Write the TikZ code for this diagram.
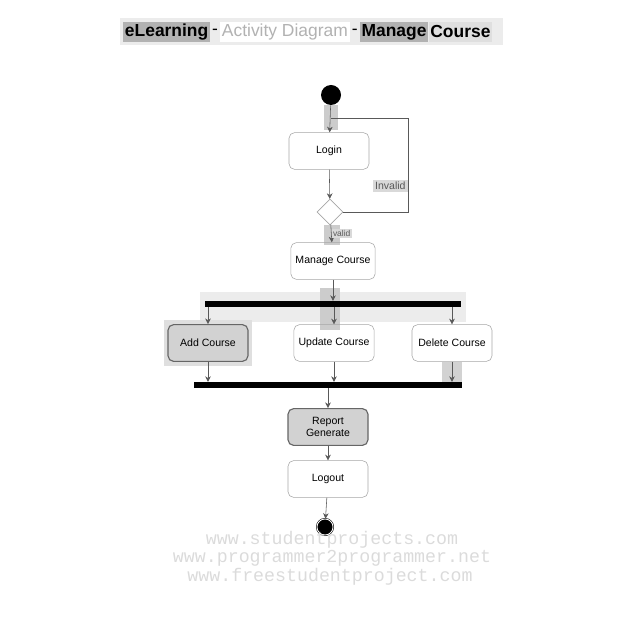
\documentclass[tikz,border=0pt]{standalone}
\usepackage{fontspec}
\setmainfont{Liberation Sans}
\setmonofont{Liberation Mono}
\usetikzlibrary{arrows.meta,calc,positioning,shapes.geometric}

\begin{document}
\begin{tikzpicture}[x=0.25mm,y=-0.25mm,
    act/.style={draw=gray!70, rounded corners=4pt, align=center, minimum width=20mm, minimum height=9.2mm, font=\fontsize{7.5}{8.5}\selectfont},
    hot/.style={act, fill=gray!35, draw=gray!80!black, line width=0.8pt},
    bar/.style={fill=black, inner sep=0, minimum height=1.4mm},
    flow/.style={-{Stealth[length=4pt,width=4pt]}, gray!70!black},
    ttl/.style={inner sep=1.2pt, minimum height=5mm, font=\fontsize{12.4}{14}\selectfont},
    wmark/.style={text=gray!28, font=\ttfamily\fontsize{13}{15}\selectfont}]
    \useasboundingbox (0,0) rectangle (640,640);
    % Title
    \fill[gray!15] (120,18) rectangle (503,45);
    \node[ttl, fill=gray!60, font=\fontsize{12.4}{14}\selectfont\bfseries, anchor=west] (t1) at (123,32) {eLearning};
    \node[ttl, right=0pt of t1] (t2) {-};
    \node[ttl, right=0pt of t2, fill=white, text=gray!60] (t3) {Activity Diagram};
    \node[ttl, right=0pt of t3] (t4) {-};
    \node[ttl, right=0pt of t4, fill=gray!60, font=\fontsize{12.4}{14}\selectfont\bfseries] (t5) {Manage};
    \node[ttl, right=0pt of t5, fill=gray!25, font=\fontsize{12.4}{14}\selectfont\bfseries] (t6) {Course};
    % Highlights
    \fill[gray!40] (324,105) rectangle (338,130);
    \fill[gray!40] (324,225) rectangle (340,245);
    \fill[gray!15] (200,292) rectangle (466,322);
    \fill[gray!40] (320,288) rectangle (340,330);
    \fill[gray!25] (164,320) rectangle (252,366);
    \fill[gray!35] (442,362) rectangle (462,385);
    % Nodes
    \node[circle, fill=black, minimum size=5mm, inner sep=0] (start) at (331,95) {};
    \node[act] (login) at (329,151) {Login};
    \node[diamond, draw=gray!70, fill=white, minimum size=6.5mm, inner sep=0] (check) at (330,212) {};
    \node[act] (manage) at (333,261) {Manage Course};
    \node[bar, minimum width=64mm] (fork) at (333,304) {};
    \node[hot] (add) at (208,343) {Add Course};
    \node[act] (update) at (334,343) {Update Course};
    \node[act] (delete) at (452,343) {Delete Course};
    \node[bar, minimum width=67mm] (join) at (328,385) {};
    \node[hot] (report) at (328,427) {Report\\Generate};
    \node[act] (logout) at (328,479) {Logout};
    \node[circle, draw=black, fill=black, minimum size=4mm, inner sep=0, double=white, double distance=0.6pt] (stop) at (325,527) {};
    \coordinate (back) at (331,118);
    % Connectors
    \draw[flow] (start) -- (login);
    \draw[flow] (login) -- (check);
    \draw[flow] (check) -- node[right, font=\fontsize{6}{7}\selectfont, fill=gray!30, inner sep=1pt] {valid} (manage);
    \draw[gray!70!black] (check.east) -| node[pos=0.64, left, font=\fontsize{7.5}{8.5}\selectfont, fill=gray!30, inner sep=1.5pt] {Invalid} (408,118) -- (back);
    \draw[flow] (manage) -- (fork);
    \draw[flow] (add |- fork.south) -- (add);
    \draw[flow] (update |- fork.south) -- (update);
    \draw[flow] (delete |- fork.south) -- (delete);
    \draw[flow] (add) -- (add |- join.north);
    \draw[flow] (update) -- (update |- join.north);
    \draw[flow] (delete) -- (delete |- join.north);
    \draw[flow] (join) -- (report);
    \draw[flow] (report) -- (logout);
    \draw[flow] (logout) -- (stop);
    % Watermark
    \node[wmark] (mark1) at (332,540) {www.studentprojects.com};
    \node[wmark] (mark2) at (332,558) {www.programmer2programmer.net};
    \node[wmark] (mark3) at (330,577) {www.freestudentproject.com};
\end{tikzpicture}
\end{document}
